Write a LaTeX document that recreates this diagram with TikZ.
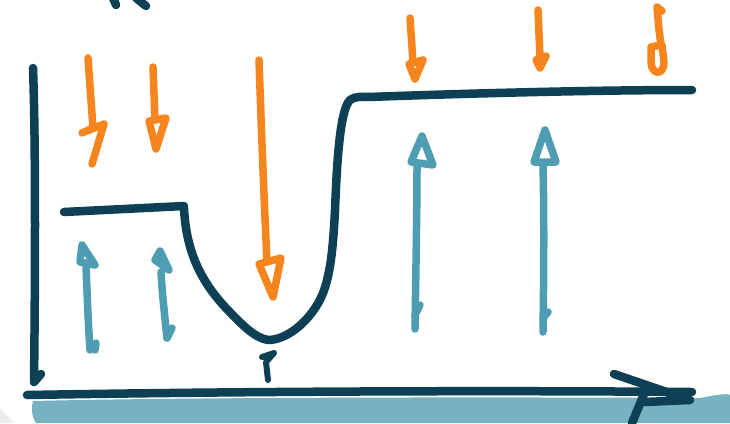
\documentclass[tikz,border=0pt]{standalone}
\definecolor{navy}{HTML}{0D3F55}
\definecolor{sketchorange}{HTML}{F7851E}
\definecolor{sketchteal}{HTML}{4F9DB3}
\definecolor{bandteal}{HTML}{76B2C2}
\tikzset{
  darkline/.style={draw=navy, line width=8.5pt, line cap=round, line join=round},
  orangeline/.style={draw=sketchorange, line width=7.5pt, line cap=round, line join=round},
  tealline/.style={draw=sketchteal, line width=7.5pt, line cap=round, line join=round},
}
\begin{document}
\begin{tikzpicture}[x=1pt,y=-1pt]
\useasboundingbox (0,0) rectangle (730,423);
\fill[white] (0,0) rectangle (730,423);
% faint corner at bottom left
\fill[gray!15] (0,408) -- (14,423) -- (0,423) -- cycle;
% light teal band
\fill[bandteal] (33,401) .. controls (200,397) and (500,397) .. (700,398)
  .. controls (715,395) and (728,393) .. (730,395) -- (730,423) -- (36,423)
  .. controls (32,418) and (31,408) .. (33,401) -- cycle;
% top partial stroke
\draw[darkline] (113,-2) -- (116,5);
\draw[darkline] (136,-2) -- (146,6);
% y axis
\draw[darkline] (33,68) .. controls (36,150) and (35,300) .. (34,382) -- (41,374);
% x axis with open arrowhead
\draw[darkline] (27,395) .. controls (200,392) and (450,390) .. (692,392);
\draw[darkline] (614,374) -- (690,400) -- (645,402);
\draw[darkline] (644,394) -- (632,423);
% curve
\draw[darkline] (64,212) -- (184,206);
\draw[darkline] (184,208) .. controls (186,250) and (200,280) .. (225,307)
  .. controls (242,325) and (255,338) .. (268,340)
  .. controls (285,340) and (305,325) .. (317,305)
  .. controls (330,285) and (333,250) .. (335,210)
  .. controls (337,160) and (340,110) .. (350,100)
  .. controls (355,96) and (362,97) .. (368,97)
  .. controls (480,93) and (600,90) .. (692,90);
% small tick under the U
\draw[darkline, line width=6pt] (262,357) -- (274,353) -- (266,362) -- (268,380);
% orange arrows (down)
\draw[orangeline] (88,58) -- (93,128) -- (82,133) -- (104,124) -- (92,164);
\draw[orangeline] (153,67) -- (155,120);
\draw[orangeline] (149,121) -- (166,118) -- (156,149) -- cycle;
\draw[orangeline] (259,60) .. controls (262,150) and (265,220) .. (267,262);
\draw[orangeline] (259,264) -- (281,258) -- (273,297) -- cycle;
\draw[orangeline] (410,18) -- (413,62);
\draw[orangeline] (409,64) -- (423,60) -- (415,79) -- cycle;
\draw[orangeline] (538,10) -- (540,58);
\draw[orangeline] (536,60) -- (546,56) -- (540,68) -- cycle;
\draw[orangeline] (662,11) -- (657,7) -- (659,30) -- (661,45) -- (651,47)
  -- (651,63) .. controls (652,75) and (664,76) .. (664,62) -- (662,45);
% teal arrows (up)
\draw[tealline] (90,350) .. controls (88,320) and (87,290) .. (86,266);
\draw[tealline] (82,245) -- (95,265) -- (80,262) -- cycle;
\draw[tealline] (95,350) -- (96,343);
\draw[tealline] (167,338) .. controls (164,310) and (162,290) .. (161,272);
\draw[tealline] (160,251) -- (169,270) -- (155,260) -- cycle;
\draw[tealline] (167,338) -- (172,328);
\draw[tealline] (415,329) .. controls (416,260) and (417,210) .. (417,166);
\draw[tealline] (422,136) -- (433,165) -- (411,162) -- cycle;
\draw[tealline] (415,315) -- (420,305);
\draw[tealline] (543,332) .. controls (544,260) and (544,210) .. (543,165);
\draw[tealline] (545,130) -- (556,162) -- (534,162) -- cycle;
\draw[tealline] (543,318) -- (548,312);
\end{tikzpicture}
\end{document}
